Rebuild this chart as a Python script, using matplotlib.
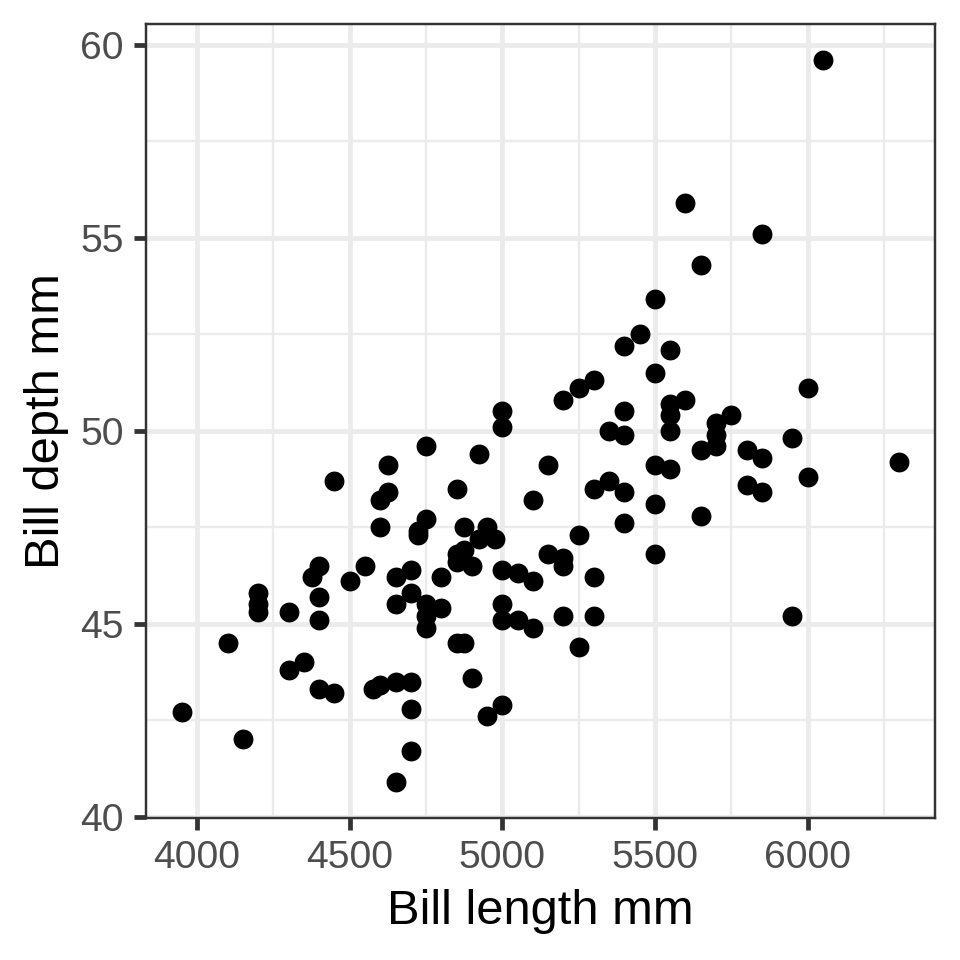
import matplotlib.pyplot as plt
from matplotlib.ticker import MultipleLocator

plt.rcParams['font.family'] = ['Liberation Sans', 'DejaVu Sans']

# body mass (x) and bill length (y)
bill_length = [
    3950, 4100, 4150, 4200, 4200, 4200, 4300, 4300, 4350, 4375,
    4400, 4400, 4400, 4400, 4450, 4450, 4500, 4550, 4575, 4600,
    4600, 4600, 4625, 4625, 4650, 4650, 4650, 4650, 4700, 4700,
    4700, 4700, 4700, 4725, 4725, 4750, 4750, 4750, 4750, 4750,
    4800, 4800, 4850, 4850, 4850, 4850, 4875, 4875, 4875, 4900,
    4900, 4925, 4925, 4950, 4950, 4975, 5000, 5000, 5000, 5000,
    5000, 5000, 5050, 5050, 5100, 5100, 5100, 5150, 5150, 5200,
    5200, 5200, 5200, 5250, 5250, 5250, 5300, 5300, 5300, 5300,
    5350, 5350, 5400, 5400, 5400, 5400, 5400, 5450, 5500, 5500,
    5500, 5500, 5500, 5550, 5550, 5550, 5550, 5550, 5600, 5600,
    5650, 5650, 5650, 5700, 5700, 5700, 5750, 5800, 5800, 5850,
    5850, 5850, 5950, 5950, 6000, 6000, 6050, 6300,
]
bill_depth = [
    42.7, 44.5, 42.0, 45.8, 45.5, 45.3, 45.3, 43.8, 44.0, 46.2,
    46.5, 45.7, 45.1, 43.3, 43.2, 48.7, 46.1, 46.5, 43.3, 43.4,
    48.2, 47.5, 49.1, 48.4, 46.2, 45.5, 43.5, 40.9, 46.4, 45.8,
    43.5, 42.8, 41.7, 47.4, 47.3, 49.6, 47.7, 45.5, 45.2, 44.9,
    46.2, 45.4, 48.5, 46.8, 46.6, 44.5, 44.5, 47.5, 46.9, 46.5,
    43.6, 49.4, 47.2, 47.5, 42.6, 47.2, 50.5, 50.1, 46.4, 45.5,
    45.1, 42.9, 46.3, 45.1, 48.2, 46.1, 44.9, 49.1, 46.8, 50.8,
    46.7, 46.5, 45.2, 51.1, 47.3, 44.4, 51.3, 48.5, 46.2, 45.2,
    50.0, 48.7, 52.2, 50.5, 49.9, 48.4, 47.6, 52.5, 53.4, 51.5,
    49.1, 48.1, 46.8, 52.1, 50.7, 50.4, 50.0, 49.0, 55.9, 50.8,
    54.3, 49.5, 47.8, 50.2, 49.9, 49.6, 50.4, 49.5, 48.6, 55.1,
    49.3, 48.4, 49.8, 45.2, 51.1, 48.8, 59.6, 49.2,
]

fig = plt.figure(figsize=(3, 3), dpi=320)
ax = fig.add_axes([146 / 960, 1 - 818 / 960, (935 - 146) / 960, (818 - 24) / 960])

ax.scatter(bill_length, bill_depth, s=20, color='black', linewidths=0, zorder=3)

ax.set_xlim(3832.5, 6417.5)
ax.set_ylim(39.965, 60.535)
ax.xaxis.set_major_locator(MultipleLocator(500))
ax.xaxis.set_minor_locator(MultipleLocator(250))
ax.yaxis.set_major_locator(MultipleLocator(5))
ax.yaxis.set_minor_locator(MultipleLocator(2.5))

ax.grid(which='major', color='#EBEBEB', linewidth=1.07, zorder=0)
ax.grid(which='minor', color='#EBEBEB', linewidth=0.53, zorder=0)
ax.set_axisbelow(True)

for s in ax.spines.values():
    s.set_color('#333333')
    s.set_linewidth(0.55)

ax.tick_params(which='major', length=2.75, width=1.07, color='#333333',
               labelsize=8.8, labelcolor='#4D4D4D', pad=2.2)
ax.tick_params(which='minor', length=0)

ax.set_xlabel('Bill length mm', fontsize=11, labelpad=3)
ax.set_ylabel('Bill depth mm', fontsize=11, labelpad=2.5)

fig.savefig('out.png', dpi=320)
